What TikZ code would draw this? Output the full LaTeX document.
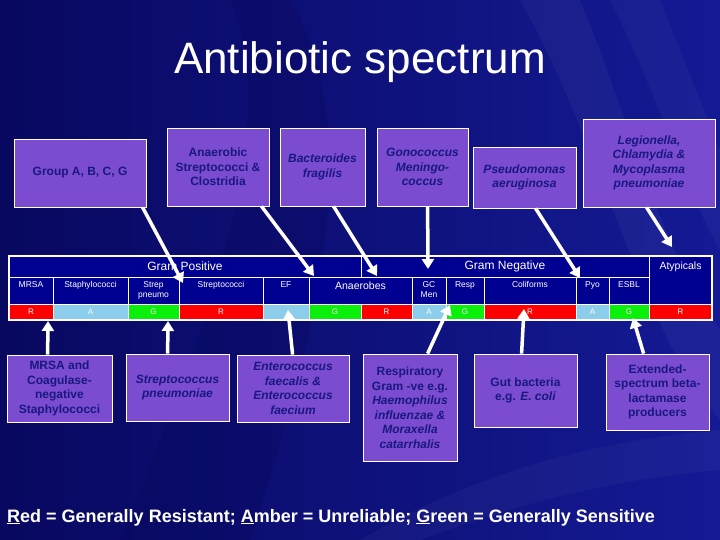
\documentclass[tikz,border=0pt]{standalone}
\usepackage{fontspec}
\setmainfont{Liberation Sans}
\usetikzlibrary{arrows.meta,calc}
\definecolor{bgL}{RGB}{8,8,96}
\definecolor{bgR}{RGB}{20,26,148}
\definecolor{boxfill}{RGB}{123,76,208}
\definecolor{boxtext}{RGB}{24,24,128}
\definecolor{tabbg}{RGB}{0,0,145}
\definecolor{cblue}{RGB}{140,205,235}
\definecolor{cred}{RGB}{255,0,0}
\definecolor{cgreen}{RGB}{10,240,10}
\tikzset{
  pbox/.style={draw=white, line width=0.8pt, fill=boxfill, text=boxtext, align=center,
    inner sep=2pt, font=\bfseries\fontsize{12}{14.5}\selectfont},
  cell/.style={draw=white, line width=0.8pt, inner sep=0pt, outer sep=0pt, anchor=north west, text=white},
  hdr/.style={font=\fontsize{12}{14}\selectfont},
  small/.style={text=white, inner sep=0pt, align=center, font=\fontsize{8.5}{10}\selectfont},
  arr/.style={draw=white, line width=3.5pt, -{Triangle[length=10pt,width=12pt]}},
}
\newcommand\tcell[7]{\node[cell,fill=#6,minimum width={#4-#2},minimum height={#5-#3}] (#1) at (#2,#3) {#7};}
\begin{document}
\begin{tikzpicture}[x=1pt,y=-1pt]
\useasboundingbox (0,0) rectangle (720,540);
% background
\shade[left color=bgL, right color=bgR] (0,0) rectangle (720,540);
\fill[bgL, opacity=0.4] (290,0) .. controls (360,120) and (330,300) .. (250,540) -- (120,540) .. controls (220,300) and (280,120) .. (230,0) -- cycle;
\fill[white, opacity=0.04] (520,0) .. controls (600,140) and (640,330) .. (720,420) -- (720,330) .. controls (660,250) and (630,120) .. (580,0) -- cycle;
\fill[white, opacity=0.03] (610,0) .. controls (660,100) and (690,200) .. (720,250) -- (720,150) .. controls (700,100) and (680,50) .. (660,0) -- cycle;
\fill[white, opacity=0.03] (360,540) .. controls (480,470) and (600,440) .. (720,430) -- (720,470) .. controls (600,480) and (500,510) .. (420,540) -- cycle;

% title
\node[anchor=base, text=white, inner sep=0pt, font=\fontsize{44}{50}\selectfont] (title) at (360,74) {Antibiotic spectrum};

% top boxes
\node[pbox, minimum width=132pt, minimum height=68pt] (grpA) at (80,173) {Group A, B, C, G};
\node[pbox, minimum width=102pt, minimum height=78pt] (anStrep) at (218,167) {Anaerobic\\Streptococci \&\\Clostridia};
\node[pbox, minimum width=85pt, minimum height=78pt] (bact) at (322.5,167) {\textit{Bacteroides}\\\textit{fragilis}};
\node[pbox, minimum width=91pt, minimum height=78pt] (gono) at (422.5,167) {\textit{Gonococcus}\\\textit{Meningo-}\\\textit{coccus}};
\node[pbox, minimum width=103pt, minimum height=61pt] (pseudo) at (524.5,177.5) {\textit{Pseudomonas}\\\textit{aeruginosa}};
\node[pbox, minimum width=132pt, minimum height=88pt] (legio) at (649,163) {\textit{Legionella,}\\\textit{Chlamydia \&}\\\textit{Mycoplasma}\\\textit{pneumoniae}};

% bottom boxes
\node[pbox, minimum width=105pt, minimum height=67pt] (mrsa) at (59.5,388.5) {MRSA and\\Coagulase-\\negative\\Staphylococci};
\node[pbox, minimum width=103pt, minimum height=67pt] (spn) at (177.5,387.5) {\textit{Streptococcus}\\\textit{pneumoniae}};
\node[pbox, minimum width=112pt, minimum height=67pt] (ent) at (293,388.5) {\textit{Enterococcus}\\\textit{faecalis \&}\\\textit{Enterococcus}\\\textit{faecium}};
\node[pbox, minimum width=94pt, minimum height=107pt] (resp) at (410,407.5) {Respiratory\\Gram -ve e.g.\\\textit{Haemophilus}\\\textit{influenzae \&}\\\textit{Moraxella}\\\textit{catarrhalis}};
\node[pbox, minimum width=103pt, minimum height=73pt] (gut) at (525.5,390.5) {Gut bacteria\\e.g. \textit{E. coli}};
\node[pbox, minimum width=103pt, minimum height=76pt] (esbl) at (657.5,392) {Extended-\\spectrum beta-\\lactamase\\producers};

% table: header row
\tcell{gpos}{9}{256}{361}{277}{tabbg}{}
\tcell{gneg}{361}{256}{649}{277}{tabbg}{}
\tcell{atyp}{649}{256}{712}{304}{tabbg}{}
\node[text=white, inner sep=0pt, hdr] (gposT) at (gpos.center) {Gram Positive};
\node[text=white, inner sep=0pt, hdr] (gnegT) at (gneg.center) {Gram Negative};
\node[small, below=6pt, font=\fontsize{10.5}{12}\selectfont] (atypT) at (atyp.north) {Atypicals};

% label row
\tcell{cmrsa}{9}{277}{53}{304}{tabbg}{}
\tcell{cstaph}{53}{277}{128}{304}{tabbg}{}
\tcell{cspn}{128}{277}{179}{304}{tabbg}{}
\tcell{cstrep}{179}{277}{263}{304}{tabbg}{}
\tcell{cef}{263}{277}{309}{304}{tabbg}{}
\tcell{canaer}{309}{277}{412}{304}{tabbg}{}
\tcell{cgc}{412}{277}{446}{304}{tabbg}{}
\tcell{cresp}{446}{277}{484}{304}{tabbg}{}
\tcell{ccoli}{484}{277}{576}{304}{tabbg}{}
\tcell{cpyo}{576}{277}{609}{304}{tabbg}{}
\tcell{cesbl}{609}{277}{649}{304}{tabbg}{}
\node[small, below=4pt] (tmrsa) at (cmrsa.north) {MRSA};
\node[small, below=4pt] (tstaph) at (cstaph.north) {Staphylococci};
\node[small, below=4pt] (tspn) at (cspn.north) {Strep\\pneumo};
\node[small, below=4pt] (tstrep) at (cstrep.north) {Streptococci};
\node[small, below=4pt] (tef) at (cef.north) {EF};
\node[small, below=5pt, font=\fontsize{10.5}{12}\selectfont] (tanaer) at (canaer.north) {Anaerobes};
\node[small, below=4pt] (tgc) at (cgc.north) {GC\\Men};
\node[small, below=4pt] (tresp) at (cresp.north) {Resp};
\node[small, below=4pt] (tcoli) at (ccoli.north) {Coliforms};
\node[small, below=4pt] (tpyo) at (cpyo.north) {Pyo};
\node[small, below=4pt] (tesbl) at (cesbl.north) {ESBL};

% colour row
\tcell{r1}{9}{304}{53}{320}{cred}{\fontsize{8}{9}\selectfont R}
\tcell{r2}{53}{304}{128}{320}{cblue}{\fontsize{8}{9}\selectfont A}
\tcell{r3}{128}{304}{179}{320}{cgreen}{\fontsize{8}{9}\selectfont G}
\tcell{r4}{179}{304}{263}{320}{cred}{\fontsize{8}{9}\selectfont R}
\tcell{r5}{263}{304}{309}{320}{cblue}{}
\tcell{r6}{309}{304}{361}{320}{cgreen}{\fontsize{8}{9}\selectfont G}
\tcell{r7}{361}{304}{412}{320}{cred}{\fontsize{8}{9}\selectfont R}
\tcell{r8}{412}{304}{446}{320}{cblue}{\fontsize{8}{9}\selectfont A}
\tcell{r9}{446}{304}{484}{320}{cgreen}{\fontsize{8}{9}\selectfont G}
\tcell{r10}{484}{304}{576}{320}{cred}{\fontsize{8}{9}\selectfont R}
\tcell{r11}{576}{304}{609}{320}{cblue}{\fontsize{8}{9}\selectfont A}
\tcell{r12}{609}{304}{649}{320}{cgreen}{\fontsize{8}{9}\selectfont G}
\tcell{r13}{649}{304}{712}{320}{cred}{\fontsize{8}{9}\selectfont R}

% table frame
\node[draw=white, line width=1.8pt, inner sep=0pt, outer sep=0pt, anchor=north west,
  minimum width=703pt, minimum height=64pt] (tbl) at (9,256) {};

% arrow tips
\coordinate (tA) at (183,283);
\coordinate (tB) at (314,276);
\coordinate (tC) at (377,276);
\coordinate (tD) at (428,269);
\coordinate (tE) at (580,278);
\coordinate (tF) at (672,247);
\coordinate (tG) at (48,321);
\coordinate (tH) at (168,321);
\coordinate (tI) at (288,310);
\coordinate (tJ) at (450,305);
\coordinate (tK) at (524,309);
\coordinate (tL) at (633,318);

% arrows
\draw[arr] ([xshift=129pt]grpA.south west) -- (tA);
\draw[arr] ([xshift=95pt]anStrep.south west) -- (tB);
\draw[arr] ([xshift=54pt]bact.south west) -- (tC);
\draw[arr] ([xshift=51pt]gono.south west) -- (tD);
\draw[arr] ([xshift=63pt]pseudo.south west) -- (tE);
\draw[arr] ([xshift=64pt]legio.south west) -- (tF);
\draw[arr] ([xshift=41pt]mrsa.north west) -- (tG);
\draw[arr] ([xshift=42pt]spn.north west) -- (tH);
\draw[arr] ([xshift=56pt]ent.north west) -- (tI);
\draw[arr] ([xshift=65pt]resp.north west) -- (tJ);
\draw[arr] ([xshift=48pt]gut.north west) -- (tK);
\draw[arr] ([xshift=38pt]esbl.north west) -- (tL);

% legend
\node[anchor=base west, text=white, inner sep=0pt, font=\bfseries\fontsize{18}{21}\selectfont] (legend) at (7,522)
  {\underline{R}ed = Generally Resistant; \underline{A}mber = Unreliable; \underline{G}reen = Generally Sensitive};
\end{tikzpicture}
\end{document}
